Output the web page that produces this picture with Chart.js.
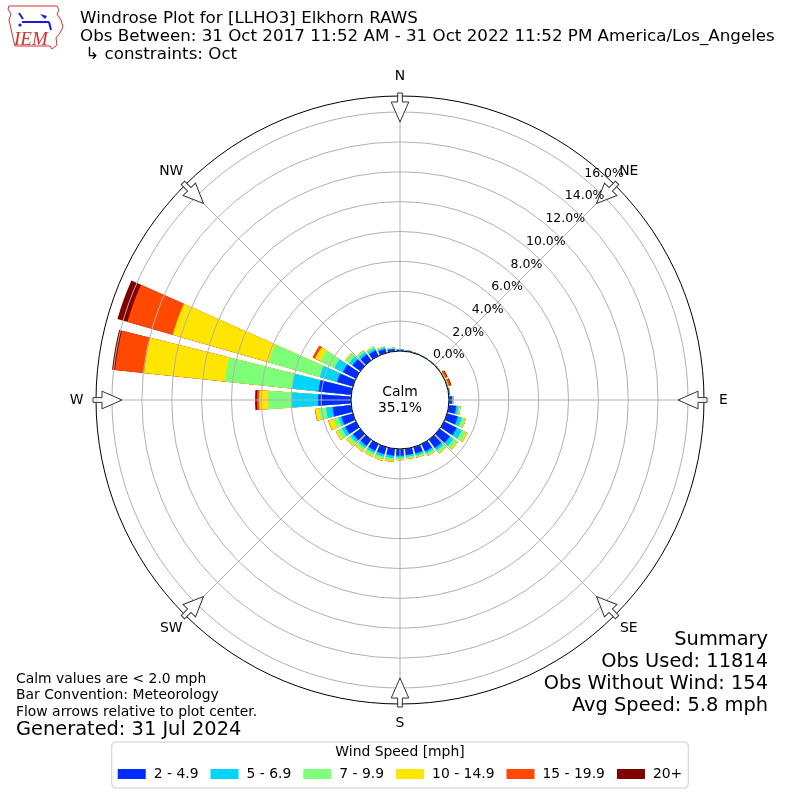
<!DOCTYPE html>
<html>
<head>
<meta charset="utf-8">
<script src="https://cdn.jsdelivr.net/npm/chart.js@4.4.1/dist/chart.umd.min.js"></script>
<style>
  html, body { margin: 0; padding: 0; background: #fff; }
  #wrap { width: 800px; height: 800px; }
</style>
</head>
<body>
<div id="wrap"><canvas id="rose" width="800" height="800"></canvas></div>
<script>
// wind direction bins, degrees (direction the wind blows from)
const directions = [0, 10, 20, 30, 40, 50, 60, 70, 80, 90, 100, 110, 120, 130, 140, 150, 160, 170,
                    180, 190, 200, 210, 220, 230, 240, 250, 260, 270, 280, 290, 300, 310, 320, 330, 340, 350];

const speedBins = ['2 - 4.9', '5 - 6.9', '7 - 9.9', '10 - 14.9', '15 - 19.9', '20+'];
const binColors = ['#002bff', '#00d4ff', '#7dff7a', '#ffe600', '#ff4800', '#800000'];

// frequency (%) per direction for each speed class
const freq2to5 = [0.09, 0.06, 0.04, 0.03, 0.03, 0.03, 0.02, 0.03, 0.06, 0.20, 0.50, 0.75, 0.95, 0.85, 0.70, 0.55, 0.45, 0.42,
                  0.45, 0.47, 0.50, 0.50, 0.52, 0.60, 0.80, 0.80, 1.26, 2.20, 2.20, 1.10, 0.97, 0.65, 0.50, 0.42, 0.28, 0.16];
const freq5to7 = [0.02, 0.01, 0.01, 0.01, 0.01, 0.01, 0.02, 0.02, 0.02, 0.06, 0.15, 0.27, 0.38, 0.30, 0.20, 0.15, 0.13, 0.12,
                  0.13, 0.17, 0.17, 0.17, 0.18, 0.20, 0.25, 0.20, 0.44, 1.75, 1.80, 1.20, 0.63, 0.27, 0.20, 0.15, 0.09, 0.05];
const freq7to10 = [0.01, 0.01, 0, 0, 0, 0.01, 0.02, 0.02, 0.01, 0.03, 0.12, 0.22, 0.32, 0.27, 0.19, 0.15, 0.12, 0.11,
                   0.12, 0.16, 0.17, 0.17, 0.18, 0.22, 0.30, 0.34, 0.46, 1.60, 4.50, 3.55, 1.05, 0.28, 0.13, 0.12, 0.07, 0.04];
const freq10to15 = [0, 0, 0, 0, 0, 0.01, 0.03, 0.04, 0.01, 0.01, 0.03, 0.06, 0.10, 0.08, 0.06, 0.05, 0.05, 0.05,
                    0.05, 0.10, 0.11, 0.11, 0.12, 0.13, 0.15, 0.35, 0.26, 0.60, 5.45, 6.70, 0.39, 0.04, 0.02, 0.01, 0.01, 0];
const freq15to20 = [0, 0, 0, 0, 0, 0, 0.14, 0.14, 0, 0, 0, 0, 0, 0, 0, 0, 0, 0,
                    0, 0, 0, 0, 0, 0, 0, 0.02, 0.02, 0.15, 1.95, 3.15, 0.18, 0, 0, 0, 0, 0];
const freq20up = [0, 0, 0, 0, 0, 0, 0.05, 0.05, 0, 0, 0, 0, 0, 0, 0, 0, 0, 0,
                  0, 0, 0, 0, 0, 0, 0, 0, 0, 0.12, 0.20, 0.70, 0, 0, 0, 0, 0, 0];

const rTicks = [0, 2, 4, 6, 8, 10, 12, 14, 16];
const compass = ['N', 'NE', 'E', 'SE', 'S', 'SW', 'W', 'NW'];
const calmPct = 35.1;

const titleLines = [
  'Windrose Plot for [LLHO3] Elkhorn RAWS',
  'Obs Between: 31 Oct 2017 11:52 AM - 31 Oct 2022 11:52 PM America/Los_Angeles',
  ' \u21b3 constraints: Oct'
];
const notes = ['Calm values are < 2.0 mph', 'Bar Convention: Meteorology', 'Flow arrows relative to plot center.'];
const generated = 'Generated: 31 Jul 2024';
const summary = ['Summary', 'Obs Used: 11814', 'Obs Without Wind: 154', 'Avg Speed: 5.8 mph'];

const FONT = '"DejaVu Sans", sans-serif';
const BAR_DEG = 8, GAP_DEG = 2;
// radial range chosen so 0% sits on the calm circle
const R_MIN = -3.28, R_MAX = 17.07;

// each direction = one bar arc + one empty gap arc
const labels = [];
const angles = [];
directions.forEach(d => {
  labels.push(d + '\u00b0'); angles.push(BAR_DEG);
  labels.push(''); angles.push(GAP_DEG);
});

const series = [freq2to5, freq5to7, freq7to10, freq10to15, freq15to20, freq20up];

// stacked look: each dataset holds the running total, first dataset is drawn on top
const datasets = series.map((s, k) => {
  const data = [];
  const colors = [];
  directions.forEach((d, i) => {
    let cum = 0;
    for (let j = 0; j <= k; j++) cum += series[j][i];
    data.push(cum); colors.push(binColors[k]);
    data.push(0); colors.push('rgba(0,0,0,0)');
  });
  return {
    label: speedBins[k],
    data: data,
    angle: angles,
    backgroundColor: colors,
    borderWidth: 0
  };
});

function drawArrow(ctx, cx, cy, deg) {
  ctx.save();
  ctx.translate(cx, cy);
  ctx.rotate(deg * Math.PI / 180);
  ctx.beginPath();
  ctx.moveTo(-2.4, -307);
  ctx.lineTo(2.4, -307);
  ctx.lineTo(2.4, -298);
  ctx.lineTo(8.8, -298);
  ctx.lineTo(0, -278);
  ctx.lineTo(-8.8, -298);
  ctx.lineTo(-2.4, -298);
  ctx.closePath();
  ctx.fillStyle = 'rgba(255,255,255,0.85)';
  ctx.fill();
  ctx.strokeStyle = '#333';
  ctx.lineWidth = 1;
  ctx.stroke();
  ctx.restore();
}

function drawLogo(ctx) {
  ctx.save();
  ctx.strokeStyle = '#d03030';
  ctx.lineWidth = 1;
  ctx.beginPath();
  const pts = [[9,6],[57,6],[59,10],[57,14],[61,20],[63,27],[60,33],[56,38],[57,45],[52,49],[50,46],[15,46],[13,38],[11,29],[9,20],[11,14],[8,9]];
  pts.forEach((p, i) => i ? ctx.lineTo(p[0], p[1]) : ctx.moveTo(p[0], p[1]));
  ctx.closePath();
  ctx.stroke();
  ctx.strokeStyle = '#1a1adc';
  ctx.fillStyle = '#1a1adc';
  ctx.lineWidth = 2;
  ctx.beginPath();
  ctx.moveTo(22, 22); ctx.lineTo(49, 22);
  ctx.moveTo(19, 13); ctx.lineTo(23, 19);
  ctx.moveTo(49, 22); ctx.lineTo(51, 30);
  ctx.stroke();
  ctx.beginPath();
  ctx.moveTo(40, 14); ctx.lineTo(47, 16); ctx.lineTo(45, 19); ctx.closePath();
  ctx.fill();
  ctx.beginPath(); ctx.arc(20, 25, 1.6, 0, Math.PI * 2); ctx.fill();
  ctx.fillStyle = '#d03030';
  ctx.font = 'italic 19px "Liberation Serif", serif';
  ctx.textAlign = 'left';
  ctx.textBaseline = 'alphabetic';
  ctx.fillText('IEM', 14, 45);
  ctx.restore();
}

function drawLegend(ctx) {
  const boxW = 28, boxH = 10, pad = 8, colGap = 12;
  ctx.save();
  ctx.font = '13.9px ' + FONT;
  const widths = speedBins.map(t => boxW + pad + ctx.measureText(t).width);
  const total = widths.reduce((a, b) => a + b, 0) + colGap * (speedBins.length - 1);
  const left = 400 - total / 2 - 6, right = 400 + total / 2 + 6;
  const top = 742, bottom = 788, rad = 4;
  ctx.beginPath();
  ctx.moveTo(left + rad, top);
  ctx.arcTo(right, top, right, bottom, rad);
  ctx.arcTo(right, bottom, left, bottom, rad);
  ctx.arcTo(left, bottom, left, top, rad);
  ctx.arcTo(left, top, right, top, rad);
  ctx.closePath();
  ctx.fillStyle = 'rgba(255,255,255,0.8)';
  ctx.fill();
  ctx.strokeStyle = '#cccccc';
  ctx.lineWidth = 1;
  ctx.stroke();
  ctx.fillStyle = '#000';
  ctx.textBaseline = 'middle';
  ctx.textAlign = 'center';
  ctx.fillText('Wind Speed [mph]', 400, 752);
  ctx.textAlign = 'left';
  let x = 400 - total / 2;
  speedBins.forEach((t, i) => {
    ctx.fillStyle = binColors[i];
    ctx.fillRect(x, 774 - boxH / 2, boxW, boxH);
    ctx.fillStyle = '#000';
    ctx.fillText(t, x + boxW + pad, 774);
    x += widths[i] + colGap;
  });
  ctx.restore();
}

const roseDecor = {
  id: 'roseDecor',
  afterDatasetsDraw(chart) {
    const sc = chart.scales.r, ctx = chart.ctx;
    const cx = sc.xCenter, cy = sc.yCenter;
    const r0 = sc.getDistanceFromCenterForValue(0), r1 = sc.drawingArea;
    ctx.save();
    ctx.strokeStyle = '#b0b0b0';
    ctx.lineWidth = 1;
    compass.forEach((c, k) => {
      const a = k * Math.PI / 4;
      ctx.beginPath();
      ctx.moveTo(cx + r0 * Math.sin(a), cy - r0 * Math.cos(a));
      ctx.lineTo(cx + r1 * Math.sin(a), cy - r1 * Math.cos(a));
      ctx.stroke();
    });
    ctx.restore();
  },
  afterDraw(chart) {
    const sc = chart.scales.r, ctx = chart.ctx;
    const cx = sc.xCenter, cy = sc.yCenter;
    const r0 = sc.getDistanceFromCenterForValue(0), r1 = sc.drawingArea;
    ctx.save();
    // plot boundary
    ctx.strokeStyle = '#000';
    ctx.lineWidth = 1;
    ctx.beginPath();
    ctx.arc(cx, cy, r1, 0, Math.PI * 2);
    ctx.stroke();
    // flow arrows
    compass.forEach((c, k) => drawArrow(ctx, cx, cy, k * 45));
    // calm circle
    ctx.beginPath();
    ctx.arc(cx, cy, r0, 0, Math.PI * 2);
    ctx.fillStyle = '#fff';
    ctx.fill();
    ctx.strokeStyle = '#000';
    ctx.stroke();
    ctx.fillStyle = '#000';
    ctx.textAlign = 'center';
    ctx.textBaseline = 'middle';
    ctx.font = '13.9px ' + FONT;
    ctx.fillText('Calm', cx, cy - 8);
    ctx.fillText(calmPct.toFixed(1) + '%', cx, cy + 8);
    // radial tick labels
    ctx.font = '12.5px ' + FONT;
    const la = 40.5 * Math.PI / 180;
    rTicks.forEach(v => {
      const d = sc.getDistanceFromCenterForValue(v);
      ctx.fillText(v.toFixed(1) + '%', cx + 17 + d * Math.sin(la), cy - 7.6 - d * Math.cos(la));
    });
    // compass labels
    ctx.font = '13.9px ' + FONT;
    compass.forEach((c, k) => {
      const a = k * Math.PI / 4;
      ctx.fillText(c, cx + 323.5 * Math.sin(a), cy - 323.5 * Math.cos(a));
    });
    // header
    ctx.textAlign = 'left';
    ctx.font = '16.7px ' + FONT;
    titleLines.forEach((t, i) => ctx.fillText(t, 80, 19 + i * 18));
    // notes bottom-left
    ctx.font = '13.9px ' + FONT;
    notes.forEach((t, i) => ctx.fillText(t, 16, 679 + i * 16.6));
    ctx.font = '19.4px ' + FONT;
    ctx.fillText(generated, 16, 730);
    // summary bottom-right
    ctx.textAlign = 'right';
    summary.forEach((t, i) => ctx.fillText(t, 768, 640 + i * 22));
    ctx.restore();
    drawLogo(ctx);
    drawLegend(ctx);
  }
};

new Chart(document.getElementById('rose'), {
  type: 'polarArea',
  data: { labels: labels, datasets: datasets },
  options: {
    responsive: false,
    animation: false,
    devicePixelRatio: 1,
    events: [],
    layout: { padding: { top: 96, bottom: 96, left: 96, right: 96 } },
    plugins: { legend: { display: false }, tooltip: { enabled: false } },
    scales: {
      r: {
        min: R_MIN,
        max: R_MAX,
        startAngle: -BAR_DEG / 2,
        ticks: { display: false, stepSize: 2 },
        grid: { circular: true, color: '#b0b0b0', lineWidth: 1, z: 1 },
        angleLines: { display: false },
        pointLabels: { display: false },
        afterBuildTicks: sc => { sc.ticks = rTicks.map(v => ({ value: v })); }
      }
    }
  },
  plugins: [roseDecor]
});
</script>
</body>
</html>
